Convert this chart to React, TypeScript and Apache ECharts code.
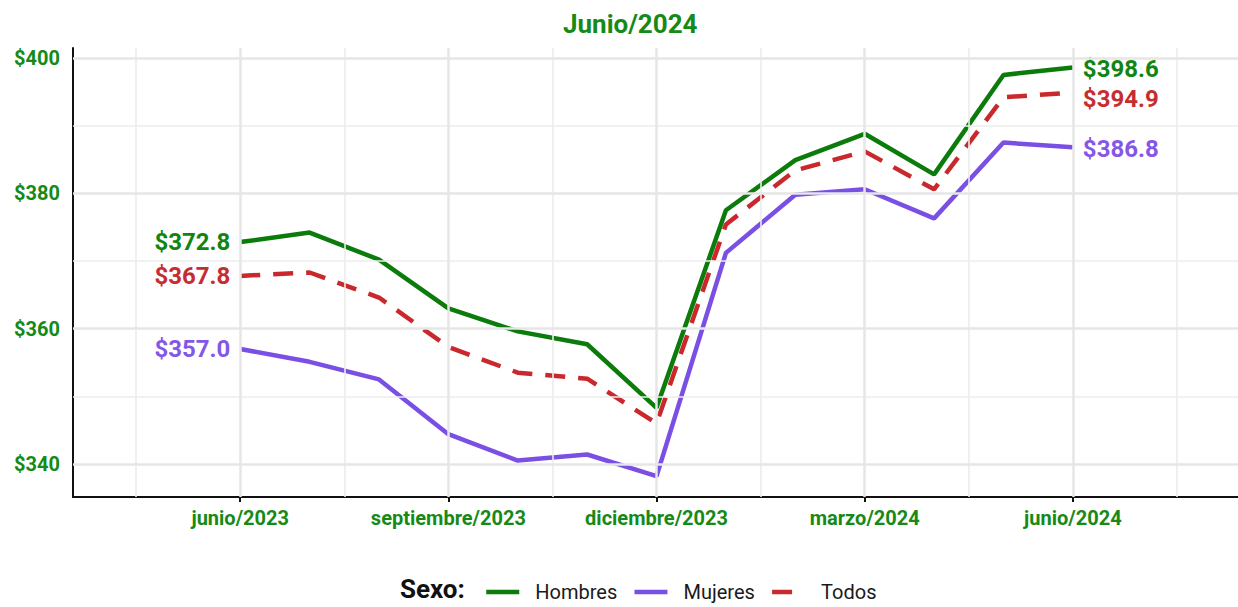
import React, { useEffect, useRef } from "react";
import * as echarts from "echarts";

const months = [
  "junio/2023", "julio/2023", "agosto/2023", "septiembre/2023", "octubre/2023",
  "noviembre/2023", "diciembre/2023", "enero/2024", "febrero/2024", "marzo/2024",
  "abril/2024", "mayo/2024", "junio/2024",
];
const hombres = [372.8, 374.2, 370.2, 363.0, 359.6, 357.7, 348.3, 377.5, 384.9, 388.8, 382.8, 397.5, 398.6];
const mujeres = [357.0, 355.1, 352.5, 344.4, 340.5, 341.4, 338.2, 371.2, 379.8, 380.6, 376.3, 387.5, 386.8];
const todos = [367.8, 368.3, 364.6, 357.3, 353.5, 352.6, 346.0, 375.4, 383.4, 386.2, 380.6, 394.2, 394.9];
const xTicks = [0, 3, 6, 9, 12];
const xMinor = [-1.5, 1.5, 4.5, 7.5, 10.5, 13.5];
const yTicks = [340, 360, 380, 400];
const yMinor = [350, 370, 390];
const title = "Junio/2024";
const legendTitle = "Sexo:";

const FONT = "Roboto";
const AXIS_GREEN = "#168a16";

const seriesDefs = [
  { name: "Hombres", values: hombres, color: "#0b7b0b", text: "#118511", dash: "solid" as any, endDy: 2 },
  { name: "Mujeres", values: mujeres, color: "#7a50e4", text: "#8457e6", dash: "solid" as any, endDy: 2 },
  { name: "Todos", values: todos, color: "#c9282d", text: "#c62d30", dash: [20, 13] as any, endDy: 6 },
];

const fmt = (v: number) => "$" + v.toFixed(1);

export default function App() {
  const ref = useRef<HTMLDivElement>(null);
  useEffect(() => {
    document.body.style.margin = "0";
    if (!ref.current) return;
    const chart = echarts.init(ref.current, undefined, { renderer: "svg" });

    const majorStyle = { color: "#e6e6e6", width: 2.5, type: "solid" };
    const minorStyle = { color: "#ececec", width: 1.6, type: "solid" };
    const gridLines = [
      ...xMinor.map((v) => ({ xAxis: v, lineStyle: minorStyle })),
      ...yMinor.map((v) => ({ yAxis: v, lineStyle: minorStyle })),
      ...xTicks.map((v) => ({ xAxis: v, lineStyle: majorStyle })),
      ...yTicks.map((v) => ({ yAxis: v, lineStyle: majorStyle })),
    ];

    const labelStyle = (color: string) => ({
      color,
      fontFamily: FONT,
      fontSize: 24,
      fontWeight: "bold",
      lineHeight: 22,
    });

    const series: any[] = [
      {
        name: "grid",
        type: "line",
        data: [],
        z: 1,
        silent: true,
        markLine: {
          silent: true,
          symbol: "none",
          label: { show: false },
          emphasis: { disabled: true },
          data: gridLines,
        },
      },
      ...seriesDefs.map((s) => ({
        name: s.name,
        type: "line",
        z: 3,
        clip: false,
        symbol: "circle",
        symbolSize: 0,
        showSymbol: true,
        color: s.color,
        itemStyle: { color: s.color },
        lineStyle: { color: s.color, width: 4.5, type: s.dash },
        data: s.values.map((v, i) =>
          i === 0
            ? {
                value: [i, v],
                label: {
                  show: true,
                  position: "left",
                  distance: 10,
                  formatter: (p: any) => fmt(p.value[1]),
                  ...labelStyle(s.text),
                },
              }
            : [i, v]
        ),
        endLabel: {
          show: true,
          distance: 10,
          offset: [0, s.endDy],
          formatter: (p: any) => fmt(p.value[1]),
          ...labelStyle(s.text),
        },
      })),
    ];

    chart.setOption({
      animation: false,
      backgroundColor: "#ffffff",
      title: {
        text: title,
        left: 558,
        top: 6,
        textStyle: { fontFamily: FONT, fontSize: 26, fontWeight: "bold", color: AXIS_GREEN },
      },
      grid: { left: 73, right: 0, top: 48, bottom: 110, containLabel: false },
      legend: {
        data: seriesDefs.map((s) => s.name),
        left: 479,
        top: 577,
        itemWidth: 33,
        itemHeight: 14,
        itemGap: 15,
        itemStyle: { opacity: 0 },
        lineStyle: { width: 4.5 },
        textStyle: { fontFamily: FONT, fontSize: 20, color: "#1a1a1a", padding: [0, 0, 0, 11] },
        selectedMode: false,
      },
      graphic: [
        {
          type: "text",
          left: 400,
          top: 576,
          style: { text: legendTitle, font: `bold 26px ${FONT}`, fill: "#111111" },
        },
      ],
      xAxis: {
        type: "value",
        min: -2.41,
        max: 14.38,
        splitLine: { show: false },
        axisLine: { show: true, onZero: false, lineStyle: { color: "#111111", width: 2 } },
        axisTick: { show: true, length: 5, customValues: xTicks, lineStyle: { color: "#111111", width: 2 } },
        axisLabel: {
          customValues: xTicks,
          margin: 11,
          formatter: (v: number) => months[Math.round(v)] ?? "",
          color: AXIS_GREEN,
          fontFamily: FONT,
          fontSize: 20,
          fontWeight: "bold",
        },
      },
      yAxis: {
        type: "value",
        min: 335.12,
        max: 401.48,
        splitLine: { show: false },
        axisLine: { show: true, onZero: false, lineStyle: { color: "#111111", width: 2 } },
        axisTick: { show: false, customValues: yTicks },
        axisLabel: {
          customValues: yTicks,
          margin: 13,
          formatter: (v: number) => "$" + v,
          color: AXIS_GREEN,
          fontFamily: FONT,
          fontSize: 20,
          fontWeight: "bold",
        },
      },
      series,
    });
    return () => chart.dispose();
  }, []);
  return <div ref={ref} style={{ width: 1238, height: 607 }} />;
}
